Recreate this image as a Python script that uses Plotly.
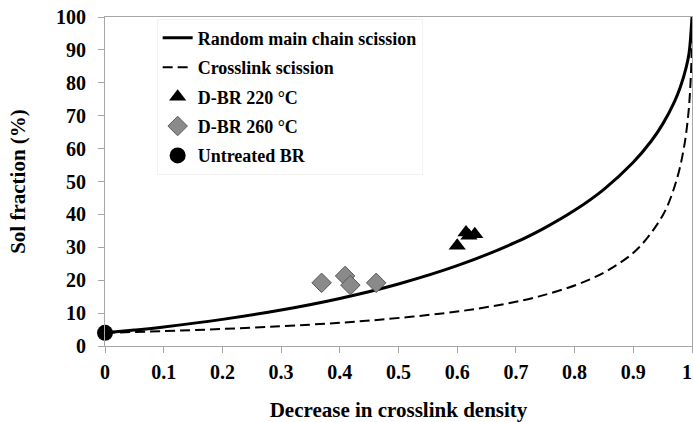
import plotly.graph_objects as go

# Horikx curves (decrease in crosslink density vs sol fraction %)
random_x = [0, 0.05, 0.1, 0.2, 0.3, 0.4, 0.5, 0.6, 0.7, 0.75, 0.8, 0.85, 0.9, 0.93, 0.95, 0.97, 0.98, 0.99, 0.995, 1.0]
random_y = [4.0, 4.85, 5.81, 8.09, 10.94, 14.46, 18.86, 24.41, 31.54, 36.0, 41.24, 47.63, 55.84, 62.15, 67.44, 74.21, 78.65, 84.64, 89.0, 100.0]

xlink_x = [0, 0.174, 0.299, 0.394, 0.468, 0.579, 0.657, 0.738, 0.823, 0.875, 0.910, 0.951, 0.973, 0.986, 0.9935, 0.9975, 0.9995, 1.0]
xlink_y = [4, 5, 6, 7, 8, 10, 12, 15, 20, 25, 30, 40, 50, 60, 70, 80, 90, 100]

dbr220_x = [0.60, 0.615, 0.62, 0.63]
dbr220_y = [30.5, 34.5, 33.5, 34.0]

dbr260_x = [0.369, 0.409, 0.418, 0.462]
dbr260_y = [19.2, 21.3, 18.5, 19.2]

untreated_x = [0]
untreated_y = [4]

x_tickvals = [0, 0.1, 0.2, 0.3, 0.4, 0.5, 0.6, 0.7, 0.8, 0.9, 1.0]
# last label padded so it stays inside the page at the right edge
x_ticktext = ["0", "0.1", "0.2", "0.3", "0.4", "0.5", "0.6", "0.7", "0.8", "0.9", "1\u2002"]

FONT = "Liberation Serif"

fig = go.Figure()
fig.add_trace(go.Scatter(x=random_x, y=random_y, mode="lines", name="Random main chain scission",
                         line=dict(color="black", width=3, shape="spline"), legendgroup="a"))
fig.add_trace(go.Scatter(x=xlink_x, y=xlink_y, mode="lines", name="Crosslink scission",
                         line=dict(color="black", width=2, dash="10px,5px", shape="spline"), legendgroup="b"))
fig.add_trace(go.Scatter(x=dbr220_x, y=dbr220_y, mode="markers", name="D-BR 220 °C",
                         marker=dict(symbol="triangle-up", size=15, color="black"), legendgroup="c"))
fig.add_trace(go.Scatter(x=dbr260_x, y=dbr260_y, mode="markers", name="D-BR 260 °C",
                         marker=dict(symbol="diamond", size=15, color="#8a8a8a",
                                     line=dict(color="#5a5a5a", width=1)), legendgroup="d"))
fig.add_trace(go.Scatter(x=untreated_x, y=untreated_y, mode="markers", name="Untreated BR",
                         marker=dict(symbol="circle", size=16, color="black"), legendgroup="e",
                         cliponaxis=False))

axis_common = dict(showgrid=False, zeroline=False, showline=True, linecolor="#a6a6a6", linewidth=1,
                   mirror=True, ticks="outside", ticklen=6, tickcolor="#a6a6a6", automargin=False,
                   tickfont=dict(family=FONT, size=20, color="black", weight="bold"))
title_font = dict(family=FONT, size=21, color="black", weight="bold")

fig.update_layout(
    width=693, height=422,
    margin=dict(l=105, r=1, t=17, b=76),
    paper_bgcolor="white", plot_bgcolor="white",
    xaxis=dict(range=[0, 1], tickvals=x_tickvals, ticktext=x_ticktext,
               ticklabeloverflow="allow", ticklabelstandoff=2,
               title=dict(text="Decrease in crosslink density", standoff=22, font=title_font),
               **axis_common),
    yaxis=dict(range=[0, 100], dtick=10, ticklabelstandoff=8,
               title=dict(text="Sol fraction (%)", standoff=24, font=title_font),
               **axis_common),
    legend=dict(x=0.088, y=0.995, xanchor="left", yanchor="top", tracegroupgap=3,
                font=dict(family=FONT, size=18, color="black", weight="bold"),
                bgcolor="rgba(255,255,255,0)", bordercolor="#f2f2f2", borderwidth=1),
    showlegend=True,
)

# drop the page's default body margin so the 693x422 figure fits the window
fig.write_html("out.html", config={"displayModeBar": False},
               post_script="document.body.style.margin='0';")
